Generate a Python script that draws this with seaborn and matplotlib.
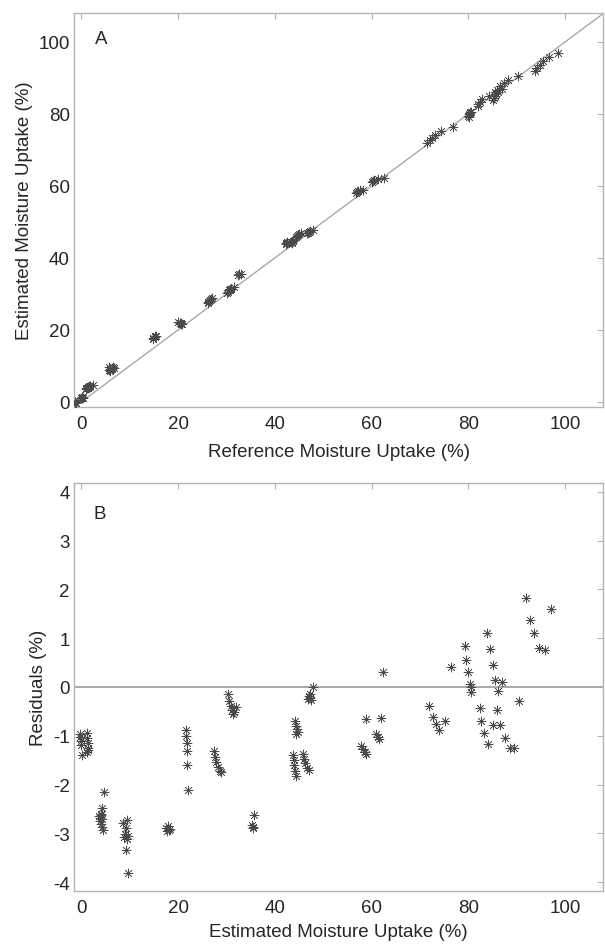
import numpy as np
import pandas as pd
import matplotlib
matplotlib.use("Agg")
import matplotlib.pyplot as plt
import seaborn as sns

# Estimated moisture uptake (%) and residuals (%)
estimated = [
    -0.2, -0.2, -0.1, -0.1, 0.1, 1.2, 1.2, 1.3, 1.3, 1.4, 1.2,
    4.6, 4.3, 4.0, 3.6, 3.9, 4.2, 3.8, 4.0, 4.2, 4.5, 4.1,
    9.55, 8.7, 9.2, 9.0, 9.6, 9.4, 8.8, 9.2, 9.6,
    18.0, 17.6, 18.2, 17.8, 18.4,
    21.7, 21.7, 21.8, 21.8, 21.9, 22.1,
    27.5, 27.7, 27.9, 28.3, 28.6, 28.8,
    30.3, 30.6, 31.0, 31.2, 31.5, 31.9, 31.3,
    35.6, 35.3, 35.4, 35.5,
    44.2, 44.4, 44.6, 44.7, 44.4,
    43.8, 43.9, 44.0, 44.2, 44.4,
    45.8, 46.0, 46.3, 46.6, 47.0,
    47.8, 47.0, 47.3, 47.5, 46.9, 47.2,
    58.9, 62.0, 61.0, 61.3, 61.6, 57.9, 58.3, 58.6, 58.9, 62.3,
    71.8, 72.6, 73.3, 74.0, 75.1, 76.4,
    79.2, 79.4, 79.9, 80.3, 80.6, 80.5,
    82.3, 82.6, 83.3, 84.0,
    83.9, 84.5, 85.0, 85.5, 86.9, 86.2, 86.0, 85.0, 86.6, 87.6, 88.5, 89.5, 90.5,
    91.9, 92.7, 93.6, 94.6, 95.8, 97.0,
]
residuals = [
    -0.97, -1.03, -1.10, -1.19, -1.40, -0.94, -1.05, -1.14, -1.24, -1.29, -1.33,
    -2.15, -2.47, -2.60, -2.64, -2.68, -2.70, -2.75, -2.80, -2.86, -2.92, -2.62,
    -2.72, -2.78, -2.88, -3.02, -3.05, -3.11, -3.08, -3.34, -3.81,
    -2.84, -2.88, -2.92, -2.95, -2.90,
    -0.88, -1.00, -1.14, -1.32, -1.60, -2.12,
    -1.32, -1.44, -1.53, -1.64, -1.72, -1.75,
    -0.15, -0.28, -0.38, -0.47, -0.52, -0.42, -0.55,
    -2.63, -2.83, -2.86, -2.88,
    -0.70, -0.79, -0.86, -0.93, -0.97,
    -1.40, -1.50, -1.60, -1.72, -1.82,
    -1.38, -1.48, -1.56, -1.65, -1.70,
    0.01, -0.18, -0.22, -0.27, -0.25, -0.15,
    -0.66, -0.64, -0.97, -1.02, -1.07, -1.20, -1.28, -1.33, -1.38, 0.31,
    -0.38, -0.62, -0.76, -0.88, -0.69, 0.40,
    0.83, 0.56, 0.30, 0.06, 0.00, -0.10,
    -0.43, -0.70, -0.95, -1.17,
    1.10, 0.78, 0.45, 0.15, 0.11, -0.08, -0.47, -0.77, -0.77, -1.05, -1.24, -1.24, -0.28,
    1.82, 1.38, 1.10, 0.79, 0.75, 1.59,
]
ticks_A = [0, 20, 40, 60, 80, 100]
ticks_B_y = [-4, -3, -2, -1, 0, 1, 2, 3, 4]

df = pd.DataFrame({"estimated": estimated, "residual": residuals})
df["reference"] = df["estimated"] + df["residual"]

sns.set_style("white")
plt.rcParams["font.family"] = ["Liberation Sans", "DejaVu Sans"]
plt.rcParams["axes.unicode_minus"] = False
plt.rcParams["xtick.direction"] = "in"
plt.rcParams["ytick.direction"] = "in"

fig = plt.figure(figsize=(6.05, 9.45), dpi=100)
W, H = 605, 945
axA = fig.add_axes([74 / W, 1 - 408 / H, (603 - 74) / W, (408 - 14) / H])
axB = fig.add_axes([74 / W, 1 - 892 / H, (603 - 74) / W, (892 - 484) / H])

spine_c = "#b4b4b4"
line_c = "#a8a8a8"
mark_c = "#4a4a4a"
mark = (8, 2, 0)
fs = 13.5

def style(ax):
    for s in ax.spines.values():
        s.set_visible(True)
        s.set_color(spine_c)
        s.set_linewidth(1.0)
    ax.tick_params(which="both", direction="in", length=4, width=0.8,
                   color=spine_c, labelsize=fs, top=True, right=True,
                   labeltop=False, labelright=False)
    ax.tick_params(axis="x", pad=6)
    ax.tick_params(axis="y", pad=3)
    ax.grid(False)

# Panel A
xlimA = (-1.5, 107.8)
ylimA = (-1.4, 108.0)
axA.plot([-5, 115], [-5, 115], color=line_c, lw=1.0, zorder=1)
sns.scatterplot(data=df, x="reference", y="estimated", ax=axA, marker=mark,
                s=42, color=mark_c, linewidth=0.5, legend=False, zorder=3)
axA.set_xlim(*xlimA)
axA.set_ylim(*ylimA)
axA.set_xticks(ticks_A)
axA.set_yticks(ticks_A)
axA.set_xlabel("Reference Moisture Uptake (%)", fontsize=fs, labelpad=8)
axA.set_ylabel("Estimated Moisture Uptake (%)", fontsize=fs, labelpad=4)
axA.text(0.052, 0.935, "A", transform=axA.transAxes, fontsize=fs,
         ha="center", va="center")
style(axA)

# Panel B
axB.axhline(0, color=line_c, lw=1.4, zorder=1)
sns.scatterplot(data=df, x="estimated", y="residual", ax=axB, marker=mark,
                s=42, color=mark_c, linewidth=0.5, legend=False, zorder=3)
axB.set_xlim(*xlimA)
axB.set_ylim(-4.18, 4.18)
axB.set_xticks(ticks_A)
axB.set_yticks(ticks_B_y)
axB.set_xlabel("Estimated Moisture Uptake (%)", fontsize=fs, labelpad=5)
axB.set_ylabel("Residuals (%)", fontsize=fs, labelpad=4)
axB.text(0.048, 0.926, "B", transform=axB.transAxes, fontsize=fs,
         ha="center", va="center")
style(axB)

fig.savefig("out.png", dpi=100)
